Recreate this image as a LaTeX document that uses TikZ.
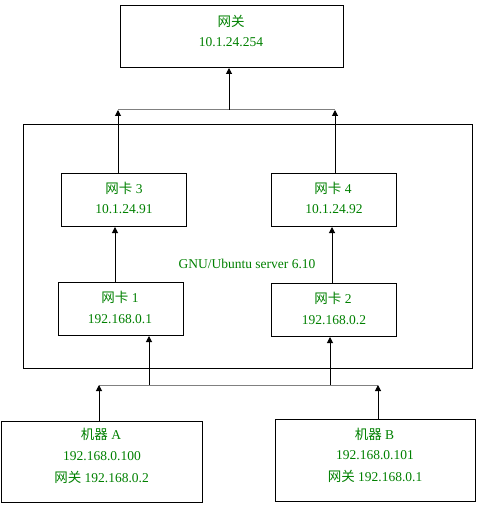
\documentclass[tikz,border=0pt]{standalone}
\usepackage{fontspec}
\setmainfont{Liberation Serif}
\newfontfamily\cjk{Noto Sans CJK SC}
\usetikzlibrary{arrows.meta}
\definecolor{tg}{RGB}{0,128,0}
\begin{document}
\begin{tikzpicture}[x=1pt,y=-1pt,
  box/.style={draw, line width=1pt, inner sep=0pt, anchor=north west},
  txt/.style={text=tg, font=\fontsize{13.5}{16}\selectfont, inner sep=0pt},
  arr/.style={-{Triangle[width=6pt,length=6pt]}, line width=1pt},
  bus/.style={draw=gray, line width=1pt}]
\useasboundingbox (0,0) rectangle (480,505);
% boxes
\node[box, minimum width=223pt, minimum height=62pt] (gw) at (120,5) {};
\node[box, minimum width=449pt, minimum height=244pt] (srv) at (23,124) {};
\node[box, minimum width=125pt, minimum height=53pt] (nic3) at (61,173) {};
\node[box, minimum width=125pt, minimum height=53pt] (nic4) at (271,173) {};
\node[box, minimum width=125pt, minimum height=53pt] (nic1) at (58,282) {};
\node[box, minimum width=125pt, minimum height=53pt] (nic2) at (271,283) {};
\node[box, minimum width=201pt, minimum height=81pt] (ma) at (1,421) {};
\node[box, minimum width=200pt, minimum height=82pt] (mb) at (275,419) {};
% texts
\node[txt] (gwa) at (231,21) {{\cjk 网关}};
\node[txt] (gwb) at (231,42) {10.1.24.254};
\node[txt] (srvl) at (247,264) {GNU/Ubuntu server 6.10};
\node[txt] (n3a) at (124,188) {{\cjk 网卡} 3};
\node[txt] (n3b) at (124,209) {10.1.24.91};
\node[txt] (n4a) at (333,188) {{\cjk 网卡} 4};
\node[txt] (n4b) at (334,209) {10.1.24.92};
\node[txt] (n1a) at (120,297) {{\cjk 网卡} 1};
\node[txt] (n1b) at (120,319) {192.168.0.1};
\node[txt] (n2a) at (333,298) {{\cjk 网卡} 2};
\node[txt] (n2b) at (334,320) {192.168.0.2};
\node[txt] (maa) at (101,434) {{\cjk 机器} A};
\node[txt] (mab) at (102,456) {192.168.0.100};
\node[txt] (mac) at (101.5,477) {{\cjk 网关} 192.168.0.2};
\node[txt] (mba) at (374.5,434) {{\cjk 机器} B};
\node[txt] (mbb) at (375,455) {192.168.0.101};
\node[txt] (mbc) at (375,476) {{\cjk 网关} 192.168.0.1};
% junction coordinates
\coordinate (j1) at (229,110);
\coordinate (t3) at (118,110);
\coordinate (t4) at (335,110);
\coordinate (c13) at (115,250);
\coordinate (c24) at (332,250);
\coordinate (bA) at (99,385);
\coordinate (bB) at (378,385);
\coordinate (b1) at (149,385);
\coordinate (b2) at (330,385);
% connectors
\draw[bus] (t3) -- (t4);
\draw[arr] (j1) -- (j1 |- gw.south);
\draw[arr] (t3 |- nic3.north) -- (t3);
\draw[arr] (t4 |- nic4.north) -- (t4);
\draw[arr] (c13 |- nic1.north) -- (c13 |- nic3.south);
\draw[arr] (c24 |- nic2.north) -- (c24 |- nic4.south);
\draw[bus] (bA) -- (bB);
\draw[arr] (b1) -- (b1 |- nic1.south);
\draw[arr] (b2) -- (b2 |- nic2.south);
\draw[arr] (bA |- ma.north) -- (bA);
\draw[arr] (bB |- mb.north) -- (bB);
\end{tikzpicture}
\end{document}
